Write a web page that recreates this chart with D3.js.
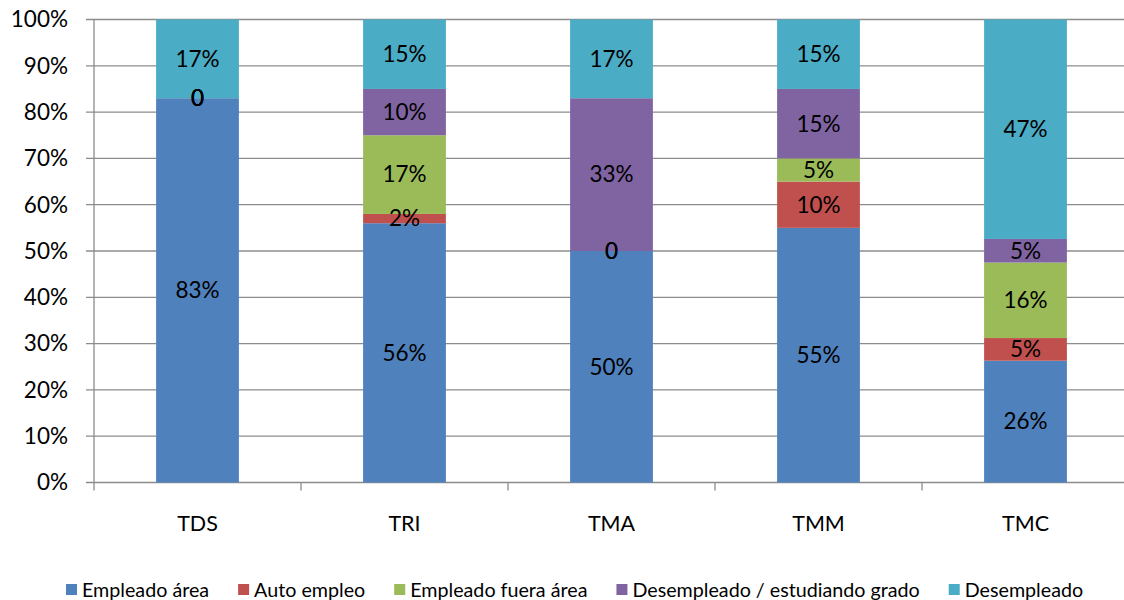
<!DOCTYPE html>
<meta charset="utf-8">
<style>
body { margin: 0; background: #fff; }
text { font-family: Lato, "Open Sans", sans-serif; fill: #000; }
.grid line { stroke: #8c8c8c; stroke-width: 1.3px; }
</style>
<svg width="1124" height="600"></svg>
<script src="https://d3js.org/d3.v7.min.js"></script>
<script>
var categories = ["TDS", "TRI", "TMA", "TMM", "TMC"]
var seriesNames = ["Empleado área", "Auto empleo", "Empleado fuera área", "Desempleado / estudiando grado", "Desempleado"]
var colors = ["#4F81BD", "#C0504D", "#9BBB59", "#8064A2", "#4BACC6"]
// one array per series, values in percent, in category order
var empleadoArea = [83, 56, 50, 55, 26.3]
var autoEmpleo = [0, 2, 0, 10, 4.9]
var fueraArea = [0, 17, 0, 5, 16.3]
var estudiando = [0, 10, 33, 15, 5.1]
var desempleado = [17, 15, 17, 15, 47.4]
var yTicks = [0, 10, 20, 30, 40, 50, 60, 70, 80, 90, 100]

var svg = d3.select("svg")
var plotLeft = 94, plotRight = 1129, plotTop = 19.5, plotBottom = 482.5

var rows = categories.map(function(c, i) {
  return {cat: c, s0: empleadoArea[i], s1: autoEmpleo[i], s2: fueraArea[i], s3: estudiando[i], s4: desempleado[i]}
})
var keys = ["s0", "s1", "s2", "s3", "s4"]
var stacked = d3.stack().keys(keys)(rows)

var x = d3.scaleBand().domain(categories).range([plotLeft, plotRight]).paddingInner(0.6).paddingOuter(0.3)
var xb = d3.scaleBand().domain(categories).range([plotLeft, plotRight])
var y = d3.scaleLinear().domain([0, 100]).range([plotBottom, plotTop])

// gridlines + y ticks
svg.append("g").attr("class", "grid")
  .selectAll("line").data(yTicks).enter().append("line")
  .attr("x1", plotLeft - 8).attr("x2", plotRight)
  .attr("y1", function(d) { return y(d) }).attr("y2", function(d) { return y(d) })

svg.append("g").selectAll("text").data(yTicks).enter().append("text")
  .attr("x", plotLeft - 26).attr("y", function(d) { return y(d) })
  .attr("text-anchor", "end").attr("dy", "0.35em")
  .style("font-size", "22.5px")
  .text(function(d) { return d + "%" })

// axis lines
svg.append("line").attr("x1", plotLeft).attr("x2", plotLeft).attr("y1", plotTop).attr("y2", plotBottom + 8)
  .attr("stroke", "#8c8c8c").attr("stroke-width", 1.3)
svg.append("g").selectAll("line").data(categories.slice(1)).enter().append("line")
  .attr("x1", function(d) { return xb(d) }).attr("x2", function(d) { return xb(d) })
  .attr("y1", plotBottom).attr("y2", plotBottom + 8)
  .attr("stroke", "#8c8c8c").attr("stroke-width", 1.3)

// bars
var layer = svg.append("g").selectAll("g").data(stacked).enter().append("g")
  .attr("fill", function(d, i) { return colors[i] })
layer.selectAll("rect").data(function(d) { return d }).enter().append("rect")
  .attr("x", function(d) { return x(d.data.cat) })
  .attr("width", x.bandwidth())
  .attr("y", function(d) { return y(d[1]) })
  .attr("height", function(d) { return y(d[0]) - y(d[1]) })

// segment labels
var labels = svg.append("g")
stacked.forEach(function(s) {
  s.forEach(function(d) {
    var v = d[1] - d[0]
    labels.append("text")
      .attr("x", x(d.data.cat) + x.bandwidth() / 2)
      .attr("y", y((d[0] + d[1]) / 2))
      .attr("text-anchor", "middle").attr("dy", "0.35em")
      .style("font-size", "22.5px")
      .text(v === 0 ? "0" : Math.round(v) + "%")
  })
})

// category labels
svg.append("g").selectAll("text").data(categories).enter().append("text")
  .attr("x", function(d) { return xb(d) + xb.bandwidth() / 2 })
  .attr("y", 523).attr("text-anchor", "middle").attr("dy", "0.35em")
  .style("font-size", "21.5px")
  .text(function(d) { return d })

// legend
var legend = svg.append("g")
var lx = 66
seriesNames.forEach(function(n, i) {
  legend.append("rect").attr("x", lx).attr("y", 584).attr("width", 11).attr("height", 11).attr("fill", colors[i])
  var t = legend.append("text").attr("x", lx + 16).attr("y", 590).attr("dy", "0.35em")
    .style("font-size", "19.7px").text(n)
  lx += 16 + t.node().getComputedTextLength() + 29
})
</script>
